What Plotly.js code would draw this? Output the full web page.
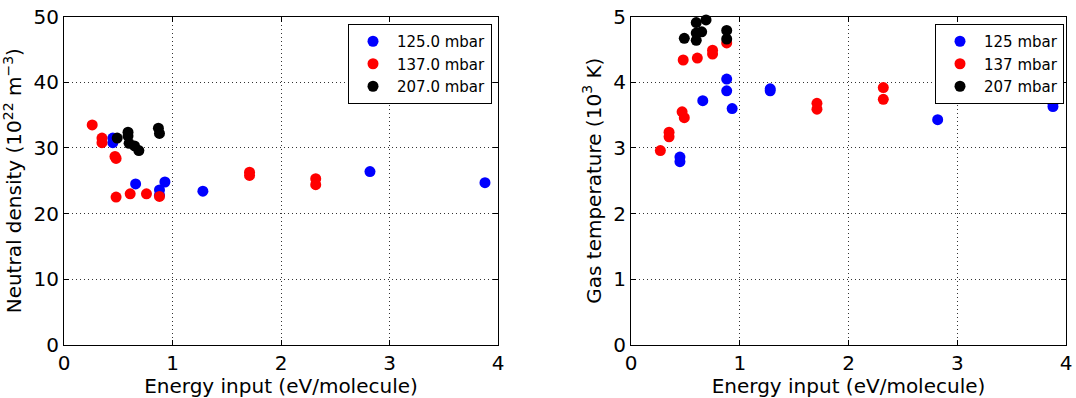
<!DOCTYPE html>
<html>
<head>
<meta charset="utf-8">
<script src="https://cdn.plot.ly/plotly-3.0.1.min.js"></script>
<style>html,body{margin:0;padding:0;background:#fff;}#chart{width:1076px;height:398px;}</style>
</head>
<body>
<div id="chart"></div>
<script>
// Left panel: neutral density (10^22 m^-3) vs energy input (eV/molecule)
const densBlueX = [0.45, 0.45, 0.66, 0.88, 0.88, 0.93, 1.28, 2.82, 3.88];
const densBlueY = [31.5, 30.8, 24.5, 23.6, 22.8, 24.8, 23.4, 26.4, 24.7];
const densRedX  = [0.26, 0.35, 0.35, 0.47, 0.48, 0.48, 0.61, 0.76, 0.88, 1.71, 1.71, 2.32, 2.32];
const densRedY  = [33.5, 31.5, 30.8, 28.7, 28.4, 22.5, 23.0, 23.0, 22.6, 26.3, 25.8, 25.3, 24.4];
const densBlackX = [0.49, 0.59, 0.59, 0.60, 0.65, 0.69, 0.87, 0.88];
const densBlackY = [31.5, 32.4, 31.8, 30.7, 30.3, 29.6, 33.0, 32.2];

// Right panel: gas temperature (10^3 K) vs energy input (eV/molecule)
const tempBlueX = [0.45, 0.45, 0.66, 0.88, 0.88, 0.93, 1.28, 1.28, 2.82, 3.88, 3.88];
const tempBlueY = [2.86, 2.79, 3.72, 4.05, 3.87, 3.60, 3.90, 3.87, 3.43, 3.68, 3.63];
const tempRedX  = [0.27, 0.35, 0.35, 0.47, 0.49, 0.48, 0.61, 0.75, 0.75, 0.88, 1.71, 1.71, 2.32, 2.32];
const tempRedY  = [2.96, 3.24, 3.17, 3.55, 3.46, 4.34, 4.37, 4.49, 4.43, 4.60, 3.68, 3.59, 3.92, 3.74];
const tempBlackX = [0.49, 0.60, 0.60, 0.60, 0.65, 0.69, 0.88, 0.88];
const tempBlackY = [4.67, 4.91, 4.75, 4.64, 4.77, 4.95, 4.79, 4.66];

const leftNames = ['125.0 mbar', '137.0 mbar', '207.0 mbar'];
const rightNames = ['125 mbar', '137 mbar', '207 mbar'];
const colors = ['#0000ff', '#ff0000', '#000000'];

const xTicks = [0, 1, 2, 3, 4];
const densTicks = [0, 10, 20, 30, 40, 50];
const tempTicks = [0, 1, 2, 3, 4, 5];

const FONT = 'DejaVu Sans, sans-serif';
const mk = (c) => ({color: c, size: 11, line: {width: 0}});

const traces = [
  {x: densBlueX, y: densBlueY, name: leftNames[0], color: colors[0], xa: 'x', ya: 'y', lg: 'legend'},
  {x: densRedX, y: densRedY, name: leftNames[1], color: colors[1], xa: 'x', ya: 'y', lg: 'legend'},
  {x: densBlackX, y: densBlackY, name: leftNames[2], color: colors[2], xa: 'x', ya: 'y', lg: 'legend'},
  {x: tempBlueX, y: tempBlueY, name: rightNames[0], color: colors[0], xa: 'x2', ya: 'y2', lg: 'legend2'},
  {x: tempRedX, y: tempRedY, name: rightNames[1], color: colors[1], xa: 'x2', ya: 'y2', lg: 'legend2'},
  {x: tempBlackX, y: tempBlackY, name: rightNames[2], color: colors[2], xa: 'x2', ya: 'y2', lg: 'legend2'}
].map(t => ({
  type: 'scatter', mode: 'markers', x: t.x, y: t.y, name: t.name,
  xaxis: t.xa, yaxis: t.ya, legend: t.lg, marker: mk(t.color), cliponaxis: false
}));

const axBase = {
  showline: true, linecolor: '#000', linewidth: 1, mirror: 'ticks',
  ticks: 'inside', ticklen: 5, tickwidth: 1, tickcolor: '#000',
  showgrid: true, gridcolor: '#333', gridwidth: 1, griddash: '1px,3px',
  zeroline: false, tickfont: {family: FONT, size: 20, color: '#000'},
  fixedrange: true
};
const W = 1076, H = 398;
const yDom = [(H - 344.7) / H, (H - 16.7) / H];
const titleFont = {family: FONT, size: 20, color: '#000'};

const legendBase = {
  xanchor: 'right', yanchor: 'top', y: (H - 24) / H,
  bgcolor: '#fff', bordercolor: '#000', borderwidth: 1,
  font: {family: FONT, size: 15, color: '#000'}, tracegroupgap: 0,
  itemwidth: 38
};

const layout = {
  width: W, height: H,
  margin: {l: 0, r: 0, t: 0, b: 0},
  paper_bgcolor: '#fff', plot_bgcolor: '#fff',
  font: {family: FONT, color: '#000'},
  showlegend: true,
  xaxis: Object.assign({}, axBase, {
    domain: [64 / W, 498 / W], range: [0, 4], tickvals: xTicks, anchor: 'y',
    title: {text: 'Energy input (eV/molecule)', font: titleFont, standoff: 4}
  }),
  yaxis: Object.assign({}, axBase, {
    domain: yDom, range: [0, 50], tickvals: densTicks, anchor: 'x',
    title: {text: 'Neutral density (10<sup>22</sup> m<sup>−3</sup>)', font: titleFont, standoff: 6}
  }),
  xaxis2: Object.assign({}, axBase, {
    domain: [631 / W, 1066 / W], range: [0, 4], tickvals: xTicks, anchor: 'y2',
    title: {text: 'Energy input (eV/molecule)', font: titleFont, standoff: 4}
  }),
  yaxis2: Object.assign({}, axBase, {
    domain: yDom, range: [0, 5], tickvals: tempTicks, anchor: 'x2',
    title: {text: 'Gas temperature (10<sup>3</sup> K)', font: titleFont, standoff: 6}
  }),
  legend: Object.assign({}, legendBase, {x: 492 / W}),
  legend2: Object.assign({}, legendBase, {x: 1064 / W})
};

Plotly.newPlot('chart', traces, layout, {displayModeBar: false, staticPlot: true});
</script>
</body>
</html>
